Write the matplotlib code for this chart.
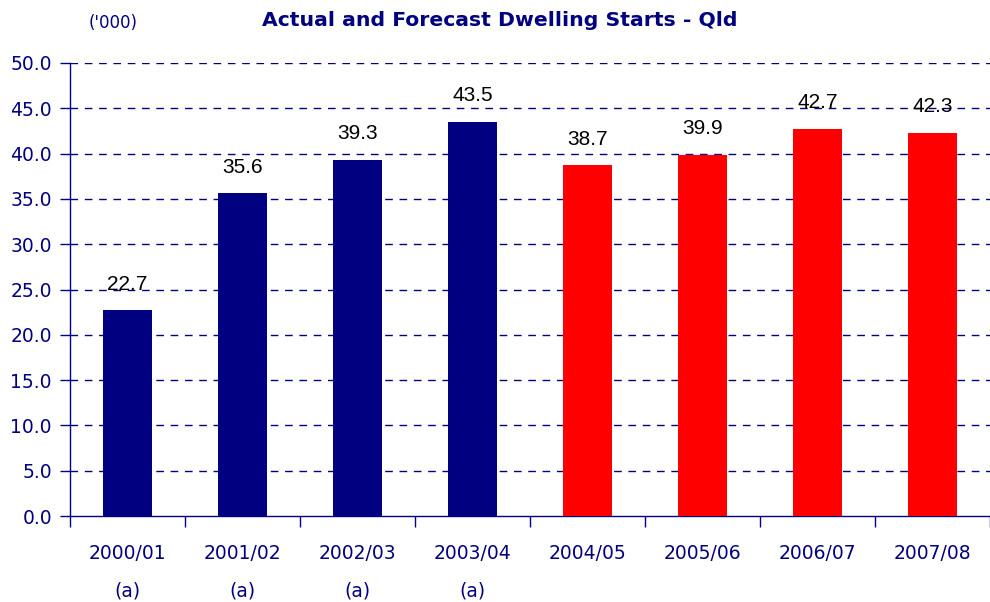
import matplotlib
matplotlib.use("Agg")
import matplotlib.pyplot as plt
import numpy as np

categories = ["2000/01", "2001/02", "2002/03", "2003/04", "2004/05", "2005/06", "2006/07", "2007/08"]
notes = ["(a)", "(a)", "(a)", "(a)", "", "", "", ""]
values = [22.7, 35.6, 39.3, 43.5, 38.7, 39.9, 42.7, 42.3]
is_actual = [True, True, True, True, False, False, False, False]

NAVY = "#000080"
RED = "#FF0000"

W, H = 990, 602
fig = plt.figure(figsize=(W / 100, H / 100), dpi=100)
left, right, top, bottom = 70, 990, 63, 516
ax = fig.add_axes([left / W, 1 - bottom / H, (right - left) / W, (bottom - top) / H])

x = np.arange(len(categories))
colors = [NAVY if a else RED for a in is_actual]
ax.bar(x, values, width=0.42, color=colors, zorder=3)

spacing = 115.86
ax.set_xlim(-0.5, -0.5 + (right - left) / spacing)
ax.set_ylim(0, 50)

yt = np.arange(0, 50.1, 5)
ax.set_yticks(yt)
ax.set_yticklabels([f"{v:.1f}" for v in yt])
for v in yt[1:]:
    ax.axhline(v, color=NAVY, lw=1, ls=(0, (5.5, 4.8)), zorder=1)

ax.set_xticks(x)
ax.set_xticklabels([f"{c}\n{n}" if n else c + "\n" for c, n in zip(categories, notes)],
                   linespacing=2.25)
ax.set_xticks(np.arange(-0.5, len(categories), 1), minor=True)
ax.tick_params(axis="x", which="major", length=0, pad=20, labelsize=13.5, labelcolor=NAVY)
ax.tick_params(axis="x", which="minor", length=8, color=NAVY, width=1, direction="out")
ax.tick_params(axis="y", length=7, color=NAVY, width=1, labelsize=13.5, labelcolor=NAVY, pad=6)

for s in ["top", "right"]:
    ax.spines[s].set_visible(False)
for s in ["left", "bottom"]:
    ax.spines[s].set_color(NAVY)
    ax.spines[s].set_linewidth(1)

for xi, v in zip(x, values):
    ax.annotate(f"{v:.1f}", (xi, v), xytext=(0, 12), textcoords="offset points",
                ha="center", va="bottom", fontsize=15, family="Liberation Sans",
                color="black", zorder=4)

fig.text(500 / W, 1 - 20 / H, "Actual and Forecast Dwelling Starts - Qld",
         ha="center", va="center", fontsize=14.7, fontweight="bold", color=NAVY)
fig.text(113 / W, 1 - 23 / H, "('000)", ha="center", va="center", fontsize=12, color=NAVY)

fig.savefig("out.png", dpi=100)
